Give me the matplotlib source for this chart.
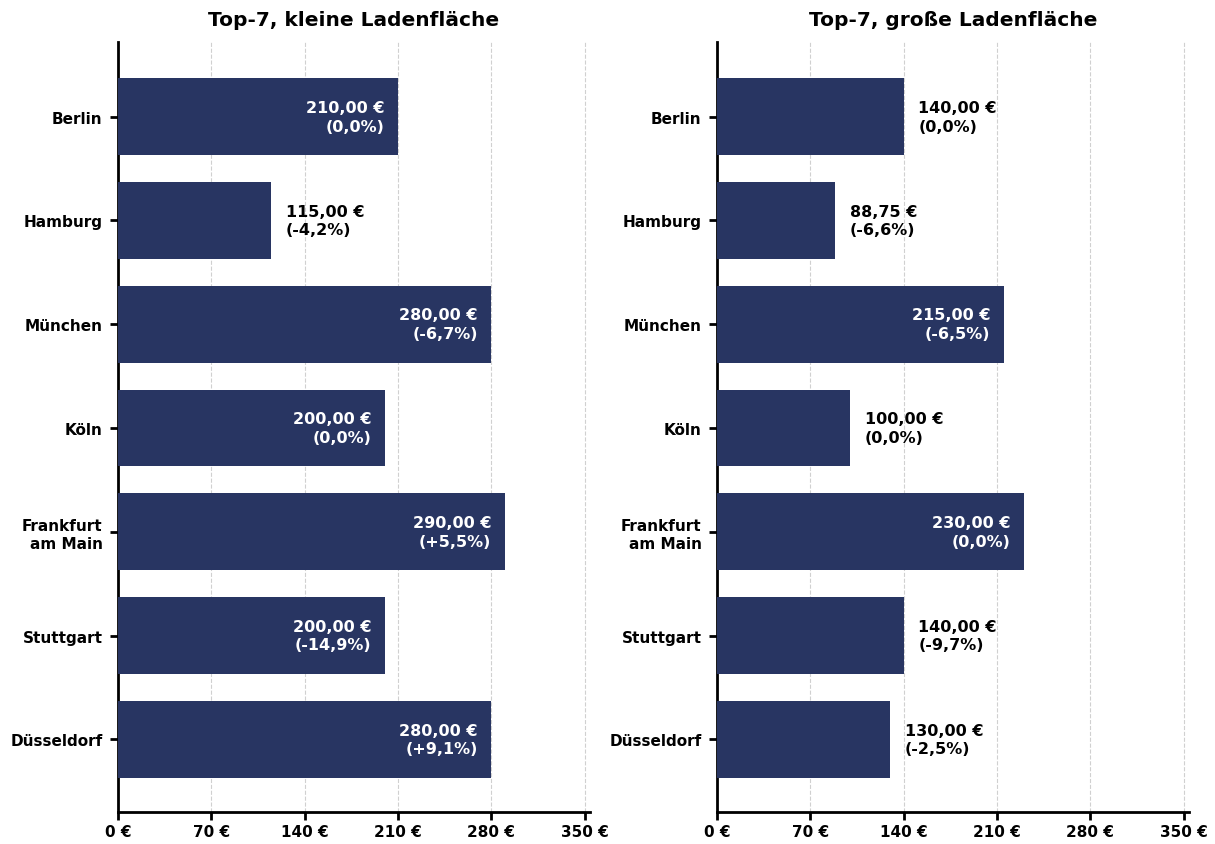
import matplotlib.pyplot as plt

cities = ['Berlin', 'Hamburg', 'München', 'Köln', 'Frankfurt\nam Main', 'Stuttgart', 'Düsseldorf']
small_rent = [210.00, 115.00, 280.00, 200.00, 290.00, 200.00, 280.00]
small_change = ['0,0%', '-4,2%', '-6,7%', '0,0%', '+5,5%', '-14,9%', '+9,1%']
large_rent = [140.00, 88.75, 215.00, 100.00, 230.00, 140.00, 130.00]
large_change = ['0,0%', '-6,6%', '-6,5%', '0,0%', '0,0%', '-9,7%', '-2,5%']
titles = ['Top-7, kleine Ladenfläche', 'Top-7, große Ladenfläche']
xticks = [0, 70, 140, 210, 280, 350]

bar_color = '#283562'
plt.rcParams['font.family'] = ['DejaVu Sans']
plt.rcParams['font.weight'] = 'bold'

fig = plt.figure(figsize=(12.15, 8.45), dpi=100)
ax1 = fig.add_axes([0.0971, 0.0379, 0.3885, 0.9112])
ax2 = fig.add_axes([0.5901, 0.0379, 0.3885, 0.9112])


def fmt(v):
    return f'{v:.2f}'.replace('.', ',') + ' €'


for ax, vals, chg, title in [(ax1, small_rent, small_change, titles[0]),
                             (ax2, large_rent, large_change, titles[1])]:
    y = list(range(len(cities)))
    ax.barh(y, vals, height=0.74, color=bar_color, zorder=3)
    for yi, v, c in zip(y, vals, chg):
        label = f'{fmt(v)}\n({c})'
        if v > 150:
            ax.text(v - 10, yi, label, color='white', ha='right', va='center',
                    fontsize=11.5, fontweight='bold', zorder=4, linespacing=1.3)
        else:
            ax.text(v + 11, yi, label, color='black', ha='left', va='center',
                    fontsize=11.5, fontweight='bold', zorder=4, linespacing=1.3)
    ax.set_ylim(len(cities) - 0.3, -0.72)
    ax.set_xlim(0, 354)
    ax.set_yticks(y)
    ax.set_yticklabels(cities, fontsize=11, fontweight='bold', multialignment='right')
    ax.set_xticks(xticks)
    ax.set_xticklabels([f'{t} €' for t in xticks], fontsize=11, fontweight='bold')
    ax.grid(True, axis='x', linestyle='--', color='#d0d0d0', linewidth=0.8, zorder=0)
    ax.spines['top'].set_visible(False)
    ax.spines['right'].set_visible(False)
    ax.spines['left'].set_linewidth(2)
    ax.spines['bottom'].set_linewidth(2)
    ax.tick_params(axis='y', width=2, length=6, pad=5)
    ax.tick_params(axis='x', width=2, length=6, pad=3)
    ax.set_title(title, fontsize=14.5, fontweight='bold', pad=12)

fig.savefig('out.png', dpi=100)
